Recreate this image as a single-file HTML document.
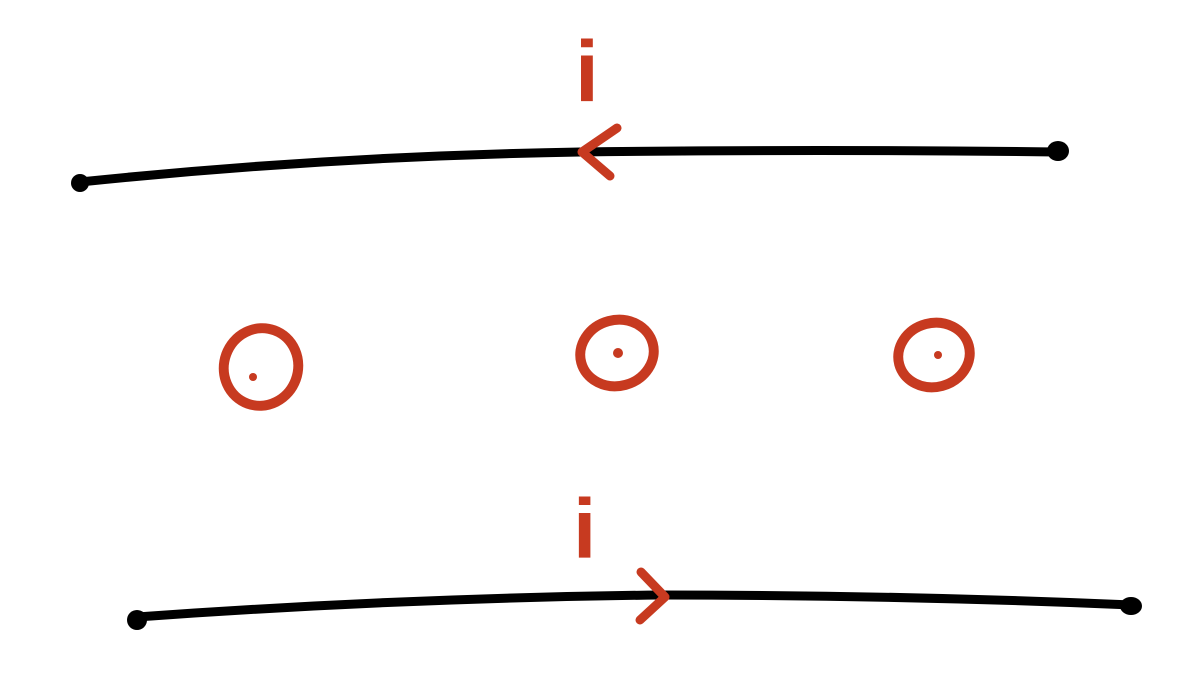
<!DOCTYPE html>
<html>
<head>
<meta charset="utf-8">
<style>
  html,body{margin:0;padding:0;background:#fff;}
  svg{display:block;}
</style>
</head>
<body>
<svg width="1193" height="679" viewBox="0 0 1193 679" xmlns="http://www.w3.org/2000/svg">
  <g>
    <path d="M80 182 Q 330 156 580 152 Q 820 149 1056 152" fill="none" stroke="#000" stroke-width="9" stroke-linecap="round"/>
    <circle cx="80" cy="183" r="9" fill="#000"/>
    <ellipse cx="1058" cy="151" rx="11" ry="10" fill="#000"/>
  </g>
  <g>
    <path d="M617 128 L582 152 L610 176" fill="none" stroke="#c73a20" stroke-width="9" stroke-linecap="round" stroke-linejoin="round"/>
  </g>
  <text x="575" y="101" font-family="Liberation Sans, sans-serif" font-weight="bold" font-size="86" fill="#c73a20">i</text>

  <g>
    <ellipse cx="261" cy="367" rx="37" ry="39" transform="rotate(20 261 367)" fill="none" stroke="#c73a20" stroke-width="10"/>
    <circle cx="253" cy="377" r="4" fill="#c73a20"/>
  </g>
  <g>
    <ellipse cx="617" cy="353" rx="37" ry="33" transform="rotate(-15 617 353)" fill="none" stroke="#c73a20" stroke-width="10"/>
    <circle cx="618" cy="353" r="5" fill="#c73a20"/>
  </g>
  <g>
    <ellipse cx="934" cy="355" rx="36" ry="32" transform="rotate(-15 934 355)" fill="none" stroke="#c73a20" stroke-width="10"/>
    <circle cx="938" cy="355" r="4" fill="#c73a20"/>
  </g>

  <g>
    <path d="M137 617 Q 400 598 660 595 Q 900 595 1132 605" fill="none" stroke="#000" stroke-width="9" stroke-linecap="round"/>
    <ellipse cx="137" cy="620" rx="10" ry="10" fill="#000"/>
    <ellipse cx="1131" cy="606" rx="11" ry="9" fill="#000"/>
  </g>
  <g>
    <path d="M641 572 L665 597 L640 620" fill="none" stroke="#c73a20" stroke-width="9" stroke-linecap="round" stroke-linejoin="round"/>
  </g>
  <text x="573" y="558" font-family="Liberation Sans, sans-serif" font-weight="bold" font-size="84" fill="#c73a20">i</text>
</svg>
</body>
</html>
